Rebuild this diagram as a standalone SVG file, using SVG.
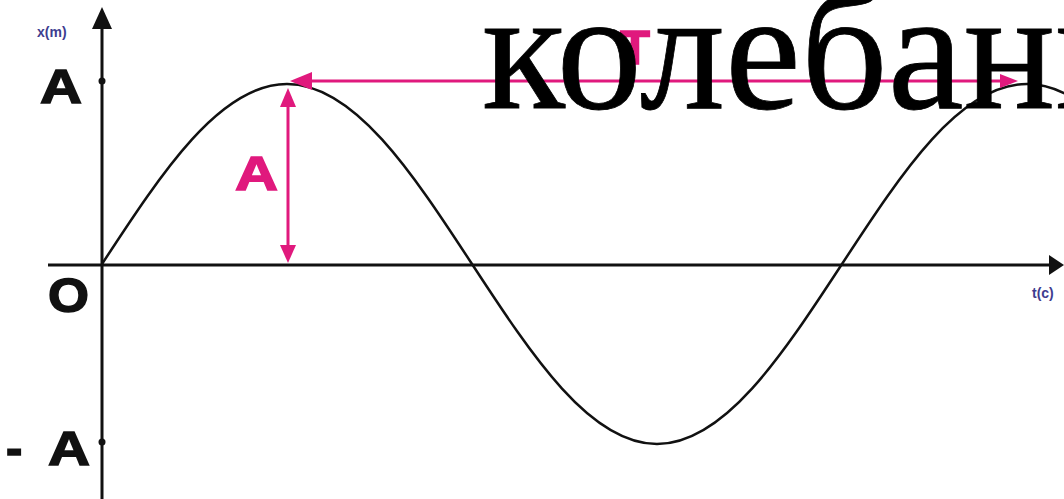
<svg xmlns="http://www.w3.org/2000/svg" width="1064" height="499" viewBox="0 0 1064 499">
<style>
.lbl{font-family:"Liberation Sans",Arial,sans-serif;font-weight:bold;font-size:49px;fill:#111;stroke:#111;stroke-width:1.5}
.pk{fill:#e0197d;stroke:#e0197d}
.ax{font-family:"Liberation Sans",Arial,sans-serif;font-weight:bold;font-size:14px;fill:#3d3d8f}
.big{font-family:"Liberation Serif","Times New Roman",serif;font-size:171px;fill:#000;stroke:#000;stroke-width:0.8}
</style>
<rect width="1064" height="499" fill="#fff"/>
<g id="axes">
<line x1="102" y1="499" x2="102" y2="24" stroke="#111" stroke-width="3"/>
<polygon points="102,7 92,29 112,29" fill="#111"/>
<line x1="48" y1="265" x2="1052" y2="265" stroke="#111" stroke-width="3"/>
<polygon points="1064,265 1049,255 1049,275" fill="#111"/>
<circle cx="102" cy="81" r="3.5" fill="#111"/>
<circle cx="102" cy="442" r="3.5" fill="#111"/>
</g>
<g id="curve">
<path d="M102,264 C162.33,171.8 220.04,84 287,84 C353.96,84 411.67,171.8 472,264 C532.33,356.2 590.04,444 657,444 C723.96,444 781.67,356.2 842,264 C902.33,171.8 960.04,84 1027,84 C1093.96,84 1151.67,171.8 1212,264" fill="none" stroke="#111" stroke-width="2.5"/>
</g>
<g id="labels">
<text class="lbl" x="40" y="103" textLength="42" lengthAdjust="spacingAndGlyphs">A</text>
<text class="lbl" x="48" y="312" textLength="41" lengthAdjust="spacingAndGlyphs">O</text>
<text class="lbl"><tspan x="6" y="465">- </tspan><tspan x="48" y="465" textLength="42" lengthAdjust="spacingAndGlyphs">A</tspan></text>
<text class="ax" x="37" y="37">x(m)</text>
<text class="ax" x="1032" y="298" font-size="13">t(c)</text>
</g>
<g id="connectors">
<line x1="305" y1="81" x2="1005" y2="81" stroke="#e0197d" stroke-width="3"/>
<polygon points="290,81 312,72 312,90" fill="#e0197d"/>
<polygon points="1018,81 1000,74 1000,88" fill="#e0197d"/>
<line x1="288" y1="100" x2="288" y2="250" stroke="#e0197d" stroke-width="3"/>
<polygon points="288,88 280,107 296,107" fill="#e0197d"/>
<polygon points="288,263 280,245 296,245" fill="#e0197d"/>
</g>
<g id="pink-labels">
<text class="lbl pk" x="235" y="190" textLength="43" lengthAdjust="spacingAndGlyphs">A</text>
<text class="lbl pk" x="635" y="64" font-size="46" text-anchor="middle">T</text>
</g>
<text class="big" x="482" y="108">колебани</text>
</svg>
